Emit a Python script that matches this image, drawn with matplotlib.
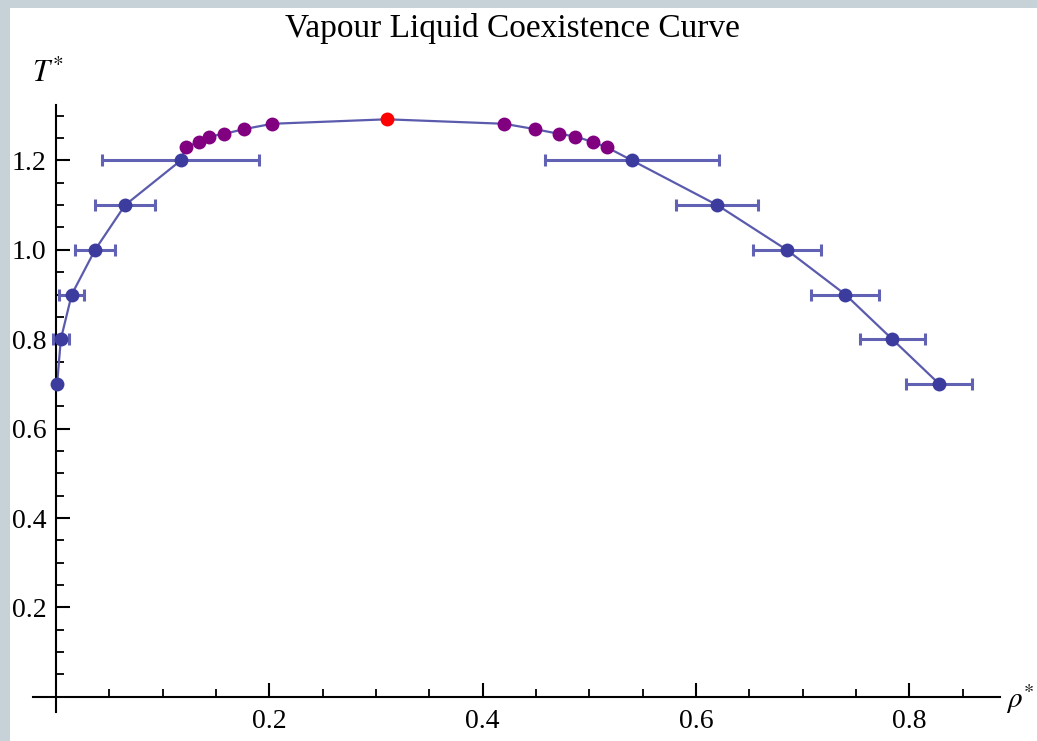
import matplotlib
matplotlib.use("Agg")
import matplotlib.pyplot as plt
from matplotlib.patches import Rectangle
from matplotlib.ticker import MultipleLocator, FixedLocator
import numpy as np

plt.rcParams["font.family"] = ["Liberation Serif", "DejaVu Serif"]
plt.rcParams["mathtext.fontset"] = "stix"

# vapour branch (simulation points with error bars)
vap_T = [0.7, 0.8, 0.9, 1.0, 1.1, 1.2]
vap_rho = [0.001, 0.0045, 0.0147, 0.0366, 0.0647, 0.117]
vap_err = [0.0, 0.0075, 0.0117, 0.019, 0.028, 0.0736]

# liquid branch
liq_T = [0.7, 0.8, 0.9, 1.0, 1.1, 1.2]
liq_rho = [0.828, 0.784, 0.740, 0.685, 0.620, 0.540]
liq_err = [0.031, 0.0305, 0.032, 0.032, 0.0385, 0.0815]

# fitted points near the critical point
fit_vap_rho = [0.1215, 0.134, 0.1437, 0.1578, 0.1762, 0.2028]
fit_vap_T = [1.229, 1.2416, 1.2535, 1.2595, 1.270, 1.282]
fit_liq_rho = [0.420, 0.449, 0.4715, 0.487, 0.5035, 0.5167]
fit_liq_T = [1.282, 1.270, 1.2595, 1.2535, 1.241, 1.229]

# critical point
crit_rho = [0.310]
crit_T = [1.292]

fig = plt.figure(figsize=(10.37, 7.41), dpi=100)
fig.patch.set_facecolor("#C6D1D8")
fig.patches.append(Rectangle((10 / 1037, 0), 1, (741 - 8) / 741,
                             transform=fig.transFigure, facecolor="white",
                             edgecolor="none", zorder=-1))

# axes box in pixels: x 33..1000, y 105..712 (from top)
ax = fig.add_axes([33 / 1037, 29 / 741, 967 / 1037, 607 / 741])
ax.patch.set_alpha(0)
ax.set_xlim(-0.0216, 0.885)
ax.set_ylim(-0.034, 1.324)

for s in ["top", "right"]:
    ax.spines[s].set_visible(False)
for s in ["left", "bottom"]:
    ax.spines[s].set_position(("data", 0))
    ax.spines[s].set_linewidth(1.5)

line_rho = np.concatenate([vap_rho, fit_vap_rho, crit_rho, fit_liq_rho, liq_rho[::-1]])
line_T = np.concatenate([vap_T, fit_vap_T, crit_T, fit_liq_T, liq_T[::-1]])
ax.plot(line_rho, line_T, color="#5B5BAE", lw=1.6, zorder=2)

ax.errorbar(vap_rho + liq_rho, vap_T + liq_T, xerr=vap_err + liq_err,
            fmt="none", ecolor="#6262B4", elinewidth=2.2, capsize=4.5,
            capthick=2.2, zorder=3)

ax.plot(vap_rho + liq_rho, vap_T + liq_T, "o", color="#3C3C9E", ms=10,
        mec="none", zorder=4)
ax.plot(fit_vap_rho + fit_liq_rho, fit_vap_T + fit_liq_T, "o", color="#800080",
        ms=10, mec="none", zorder=4)
ax.plot(crit_rho, crit_T, "o", color="#FF0000", ms=10, mec="none", zorder=5)

ax.xaxis.set_major_locator(FixedLocator([0.2, 0.4, 0.6, 0.8]))
ax.yaxis.set_major_locator(FixedLocator([0.2, 0.4, 0.6, 0.8, 1.0, 1.2]))
ax.xaxis.set_minor_locator(MultipleLocator(0.05))
ax.yaxis.set_minor_locator(MultipleLocator(0.05))
ax.set_xticklabels(["0.2", "0.4", "0.6", "0.8"])
ax.set_yticklabels(["0.2", "0.4", "0.6", "0.8", "1.0", "1.2"])
ax.tick_params(which="major", direction="in", length=10, width=1.5,
               labelsize=20)
ax.tick_params(axis="x", which="major", pad=9)
ax.tick_params(axis="y", which="major", pad=7)
ax.tick_params(which="minor", direction="in", length=6, width=1.3)

fig.text(512 / 1037, 1 - 28 / 741, "Vapour Liquid Coexistence Curve",
         ha="center", va="center", fontsize=24)
fig.text(48 / 1037, 1 - 74 / 741, r"$T^{*}$", ha="center", va="center",
         fontsize=22)
fig.text(1006 / 1037, 1 - 699 / 741, r"$\rho^{*}$", ha="left", va="center",
         fontsize=21)

fig.savefig("out.png", dpi=100, facecolor=fig.get_facecolor())
